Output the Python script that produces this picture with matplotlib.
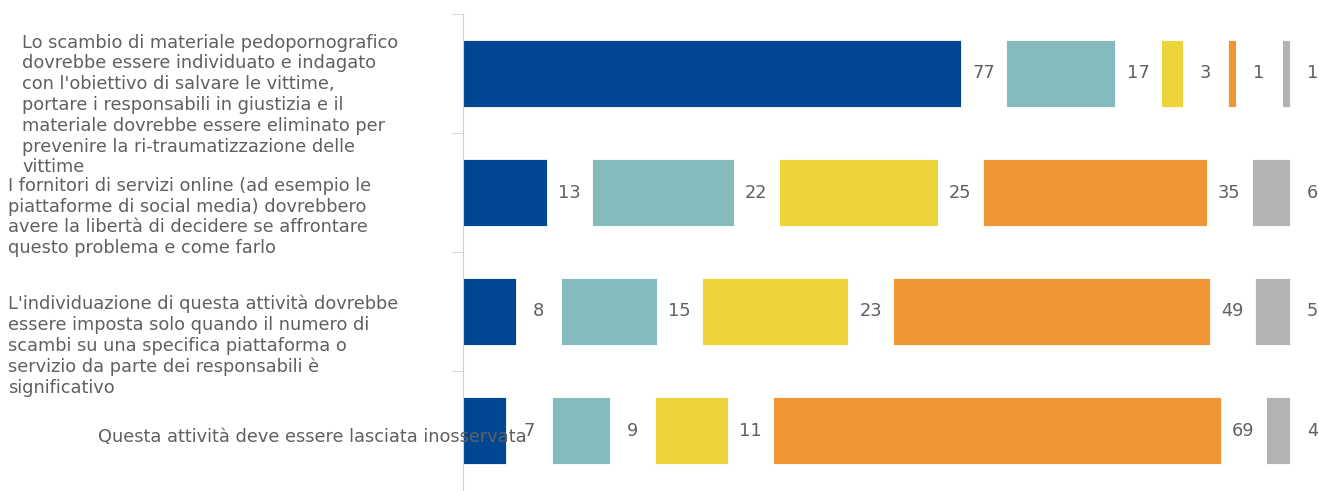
import numpy as np
import matplotlib
matplotlib.use('Agg')
import matplotlib.pyplot as plt

plt.rcParams['font.family'] = ['DejaVu Sans']

categories = [
    "Lo scambio di materiale pedopornografico\ndovrebbe essere individuato e indagato\ncon l'obiettivo di salvare le vittime,\nportare i responsabili in giustizia e il\nmateriale dovrebbe essere eliminato per\nprevenire la ri-traumatizzazione delle\nvittime",
    "I fornitori di servizi online (ad esempio le\npiattaforme di social media) dovrebbero\navere la libertà di decidere se affrontare\nquesto problema e come farlo",
    "L'individuazione di questa attività dovrebbe\nessere imposta solo quando il numero di\nscambi su una specifica piattaforma o\nservizio da parte dei responsabili è\nsignificativo",
    "Questa attività deve essere lasciata inosservata",
]
# percentages (bar lengths estimated, labels shown rounded)
s1 = [77.1, 13.0, 8.2, 6.7]
s2 = [16.9, 21.9, 14.8, 9.0]
s3 = [3.4, 24.6, 22.6, 11.3]
s4 = [1.3, 34.6, 49.0, 69.3]
s5 = [1.3, 5.9, 5.4, 3.7]
series = [s1, s2, s3, s4, s5]
colors = ['#004793', '#85bbbc', '#edd43a', '#f19637', '#b3b3b3']

W, H = 1319, 491
fig = plt.figure(figsize=(W / 100, H / 100), dpi=100)
ax = fig.add_axes([463 / W, 1 - 490 / H, (W - 463) / W, (490 - 14) / H])

gap = 7.0
txt = '#606060'
fs = 12.8
y = np.arange(len(categories))
left = np.zeros(len(categories))
for vals, c in zip(series, colors):
    vals = np.array(vals, dtype=float)
    ax.barh(y, vals, left=left, height=0.56, color=c, edgecolor='white', linewidth=0.6)
    for yi, l, v in zip(y, left, vals):
        ax.text(l + v + gap / 2, yi, '%.0f' % v, ha='center', va='center',
                fontsize=fs, color=txt)
    left = left + vals + gap

ax.set_xlim(0, 132.5)
ax.set_ylim(3.5, -0.5)
ax.set_xticks([])
ax.set_yticks([])
ax.set_yticks([-0.5, 0.5, 1.5, 2.5], minor=True)
ax.tick_params(axis='y', which='minor', length=8, color='#d0d0d0', labelleft=False)
for s in ['top', 'right', 'bottom']:
    ax.spines[s].set_visible(False)
ax.spines['left'].set_color('#d0d0d0')

# category labels placed as in the original layout
label_pos = [(22, 105, 'left'), (8, 217, 'left'), (8, 346, 'left'), (527, 437, 'right')]
for lab, (px, py, ha) in zip(categories, label_pos):
    fig.text(px / W, 1 - py / H, lab, ha=ha, va='center', fontsize=fs,
             color=txt, linespacing=1.2)

fig.savefig('out.png', dpi=100)
